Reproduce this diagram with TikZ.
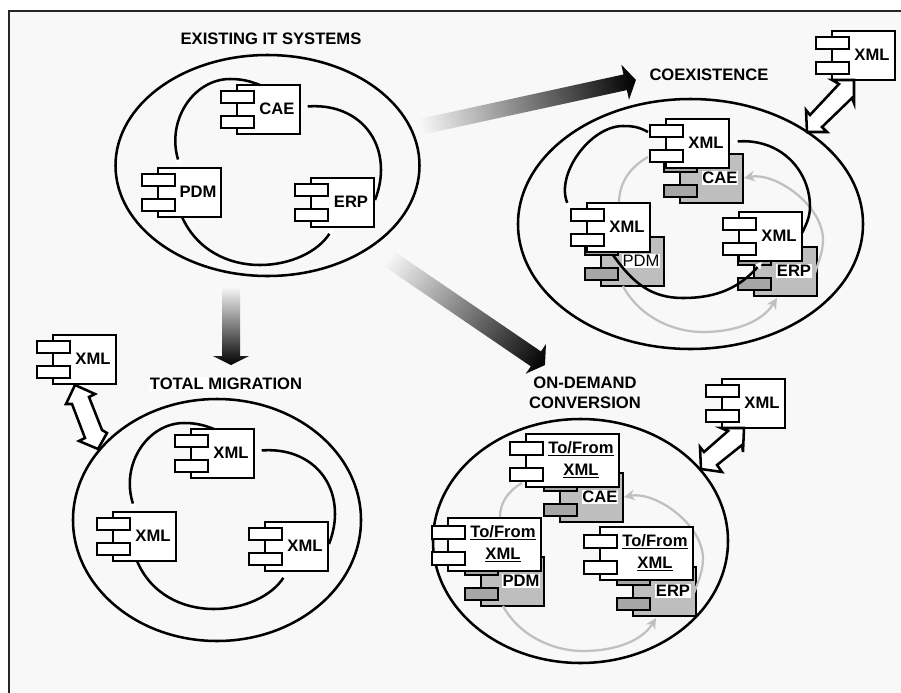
\documentclass[tikz,border=0pt]{standalone}
\usepackage{fontspec}
\setmainfont{Liberation Sans}
\usetikzlibrary{shapes.geometric,arrows.meta}
\definecolor{bgc}{HTML}{F8F8F8}
\definecolor{gbox}{HTML}{BEBEBE}
\definecolor{gpin}{HTML}{A6A6A6}
\definecolor{garc}{HTML}{C0C0C0}
\tikzset{
  x=0.75pt,y=-0.75pt,
  wtip/.tip={Triangle[length=5pt,width=5pt,color=white,fill=white]},
  gtip/.tip={Stealth[length=8pt,width=8pt,inset=2.5pt,color=garc,fill=garc]},
  txt/.style={font=\fontsize{12.45}{14.8}\selectfont\bfseries,inner sep=0pt,align=center},
  bodyw/.style={draw=black,fill=white,line width=1.9pt,inner sep=0pt,outer sep=0pt,minimum width=47.25pt,minimum height=36.75pt},
  bodyg/.style={bodyw,fill=gbox},
  bodywide/.style={bodyw,minimum width=69.75pt,minimum height=39.75pt},
  pinw/.style={draw=black,fill=white,line width=1.9pt,inner sep=0pt,outer sep=0pt,minimum width=24.75pt,minimum height=9pt},
  ping/.style={pinw,fill=gpin},
  pinwide/.style={pinw,minimum height=9.75pt},
  labw/.style={txt},
  labg/.style={txt,fill=white,inner sep=0.6pt},
  ring/.style={ellipse,draw=black,line width=1.9pt,inner sep=0pt,outer sep=0pt},
  blackarc/.style={draw=black,line width=1.9pt},
  grayarc/.style={draw=garc,line width=1.7pt},
  dblarrow/.style={draw=black,fill=white,line width=1.9pt,line join=miter},
}
\newcommand{\comp}[5]{%
  \node[body#4,anchor=north west] (#1) at (#2,#3) {};
  \node[pin#4,anchor=north west] (#1-a) at ([shift={(-16,6)}]#1.north west) {};
  \node[pin#4,anchor=north west] (#1-b) at ([shift={(-16,31)}]#1.north west) {};
  \node[lab#4] (#1-t) at ([shift={(40,24)}]#1.north west) {#5};
}
\newcommand{\widecomp}[3]{%
  \node[bodywide,anchor=north west] (#1) at (#2,#3) {};
  \node[pinwide,anchor=north west] (#1-a) at ([shift={(-16,8)}]#1.north west) {};
  \node[pinwide,anchor=north west] (#1-b) at ([shift={(-16,34)}]#1.north west) {};
  \node[txt] (#1-t) at ([shift={(55,26)}]#1.north west) {\underline{To/From}\\[2pt]\underline{XML}};
}
\newcommand{\stdloop}[3]{% top, left, right
  \draw[blackarc,wtip-] ([shift={(22,-2)}]#2.north west) .. controls ([shift={(-71,35)}]#1.north west) and ([shift={(-43,-6)}]#1.north west) .. ([shift={(-7,-6)}]#1.north west) .. controls ([shift={(7,-6)}]#1.north west) and ([shift={(15,-3)}]#1.north west) .. ([shift={(23,0)}]#1.north west);
  \draw[blackarc,wtip-] ([shift={(1,22)}]#1.north east) .. controls ([shift={(113,18)}]#1.north west) and ([shift={(144,45)}]#1.north west) .. ([shift={(144,85)}]#1.north west) .. controls ([shift={(144,97)}]#1.north west) and ([shift={(141,107)}]#1.north west) .. ([shift={(1,22)}]#3.north east);
  \draw[blackarc,-wtip] ([shift={(24,0)}]#2.south west) .. controls ([shift={(-40,165)}]#1.north west) and ([shift={(-9,180)}]#1.north west) .. ([shift={(23,180)}]#1.north west) .. controls ([shift={(53,180)}]#1.north west) and ([shift={(81,167)}]#1.north west) .. ([shift={(22,1)}]#3.south west);
}
\newcommand{\grayloop}[3]{% gray top, left, right
  \draw[grayarc,gtip-] ([shift={(1,24)}]#1.north east) .. controls ([shift={(95,18)}]#1.north west) and ([shift={(143,51)}]#1.north west) .. ([shift={(143,86)}]#1.north west) .. controls ([shift={(143,98)}]#1.north west) and ([shift={(138,109)}]#1.north west) .. ([shift={(-2,26)}]#3.north east);
  \draw[grayarc,-gtip] ([shift={(22,0)}]#2.south west) .. controls ([shift={(-42,161)}]#1.north west) and ([shift={(-9,178)}]#1.north west) .. ([shift={(23,178)}]#1.north west) .. controls ([shift={(55,178)}]#1.north west) and ([shift={(82,168)}]#1.north west) .. ([shift={(23,2)}]#3.south west);
}
\newcommand{\gradarrow}[6]{% x,y,angle,length,head length,half body
  \begin{scope}[transform canvas={shift={(#1,#2)},rotate=#3}]
    \shade[left color=bgc,right color=black] (0,-#6) -- ({#4-#5},-#6) -- ({#4-#5},-18) -- (#4,0) -- ({#4-#5},18) -- ({#4-#5},#6) -- (0,#6) -- cycle;
  \end{scope}
}
\begin{document}
\begin{tikzpicture}
\useasboundingbox (0,0) rectangle (901,693);
\fill[white] (0,0) rectangle (901,693);
\fill[bgc] (9,11) rectangle (901,693);
\draw[line width=1.5pt,black!85] (9,693) -- (9,11) -- (901,11);

% existing IT systems
\node[ring,minimum width=228pt,minimum height=165.75pt] (ringE) at (267.5,165.5) {};
\node[txt] (titleE) at (271,39) {EXISTING IT SYSTEMS};
\comp{cae}{237}{85}{w}{CAE}
\comp{pdm}{158}{168}{w}{PDM}
\comp{erp}{311}{178}{w}{ERP}
\stdloop{cae}{pdm}{erp}

% gradient arrows
\gradarrow{420}{127}{12.3}{221}{11}{8}
\gradarrow{388}{258}{-34.3}{190}{11}{9}
\gradarrow{231}{287}{-90}{78}{9}{9}

% coexistence
\node[ring,minimum width=258.75pt,minimum height=187.5pt] (ringC) at (690.5,224) {};
\node[txt] (titleC) at (709,75) {COEXISTENCE};
\comp{xmlC0}{832}{31}{w}{XML}
\draw[dblarrow] (854,80) -- (832,80) -- (839,84) -- (810,115) -- (806,110) -- (807,132) -- (827,132) -- (822,127) -- (852,98) -- (854,103) -- cycle;
\comp{gC}{680}{154}{g}{CAE}
\comp{gP}{601}{237}{g}{\mdseries PDM}
\comp{gE}{754}{247}{g}{ERP}
\draw[grayarc] ([shift={(-32,3)}]gC.north west) .. controls ([shift={(-50,13)}]gC.north west) and ([shift={(-61,29)}]gC.north west) .. ([shift={(-61,49)}]gC.north west);
\grayloop{gC}{gP}{gE}
\comp{xC}{666}{119}{w}{XML}
\comp{xP}{587}{203}{w}{XML}
\comp{xE}{739}{212}{w}{XML}
\draw[blackarc,wtip-] ([shift={(-17,6)}]xP.north west) .. controls ([shift={(-111,56)}]xC.north west) and ([shift={(-76,7)}]xC.north west) .. ([shift={(-43,7)}]xC.north west) .. controls ([shift={(-33,7)}]xC.north west) and ([shift={(-27,8)}]xC.north west) .. ([shift={(-18,13)}]xC.north west);
\draw[blackarc,wtip-] ([shift={(2,23)}]xC.north east) .. controls ([shift={(114,19)}]xC.north west) and ([shift={(144,51)}]xC.north west) .. ([shift={(144,88)}]xC.north west) .. controls ([shift={(144,98)}]xC.north west) and ([shift={(140,106)}]xC.north west) .. ([shift={(0,21)}]xE.north east);
\draw[blackarc,-wtip] ([shift={(26,3)}]xP.south west) .. controls ([shift={(-33,164)}]xC.north west) and ([shift={(-15,179)}]xC.north west) .. ([shift={(17,179)}]xC.north west) .. controls ([shift={(52,179)}]xC.north west) and ([shift={(74,168)}]xC.north west) .. ([shift={(23,1)}]xE.south west);

% total migration
\node[ring,minimum width=216pt,minimum height=181.5pt] (ringT) at (217,520) {};
\node[txt,fill=white,inner sep=1pt] (titleT) at (226,384) {TOTAL MIGRATION};
\comp{xmlT0}{53}{335}{w}{XML}
\draw[dblarrow] (75,385) -- (95,394) -- (89,397) -- (102,430) -- (107,433) -- (98,449) -- (79,441) -- (85,438) -- (72,404) -- (66,404) -- cycle;
\comp{xT}{191}{429}{w}{XML}
\comp{xL}{113}{512}{w}{XML}
\comp{xR}{265}{522}{w}{XML}
\stdloop{xT}{xL}{xR}

% on-demand conversion
\node[ring,minimum width=221.25pt,minimum height=183pt] (ringD) at (580.5,541) {};
\node[txt] (titleD) at (585,392.5) {ON-DEMAND\\CONVERSION};
\comp{xmlD0}{722}{379}{w}{XML}
\draw[dblarrow] (744,428) -- (721,428) -- (728,431) -- (704,452) -- (700,447) -- (701,469) -- (722,472) -- (717,465) -- (742,445) -- (743,452) -- cycle;
\comp{hC}{560}{473}{g}{CAE}
\comp{hP}{481}{557}{g}{PDM}
\comp{hE}{633}{567}{g}{ERP}
\draw[grayarc] ([shift={(-38,10)}]hC.north west) .. controls ([shift={(-52,18)}]hC.north west) and ([shift={(-60,30)}]hC.north west) .. ([shift={(-60,44)}]hC.north west);
\grayloop{hC}{hP}{hE}
\widecomp{wC}{526}{434}
\widecomp{wP}{448}{518}
\widecomp{wE}{600}{527}
\end{tikzpicture}
\end{document}
